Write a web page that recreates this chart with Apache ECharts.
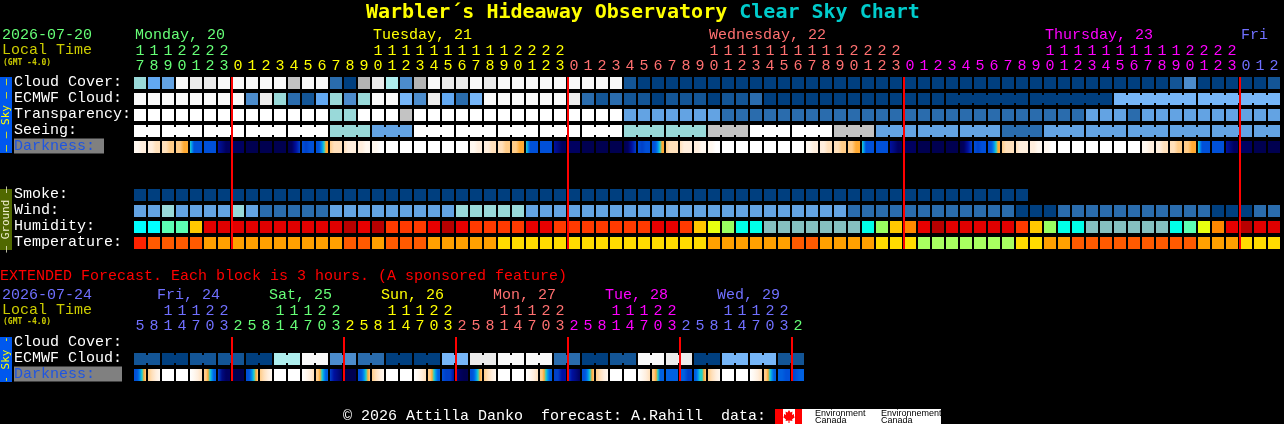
<!DOCTYPE html>
<html>
<head>
<meta charset="utf-8">
<style>html,body{margin:0;padding:0;background:#000;overflow:hidden}#c{width:1284px;height:424px}</style>
<script src="https://cdn.jsdelivr.net/npm/echarts@6/dist/echarts.min.js"></script>
</head>
<body>
<div id="c"></div>
<script>
// ---------- tick labels ----------
const hoursMain = [17,18,19,20,21,22,23,
  0,1,2,3,4,5,6,7,8,9,10,11,12,13,14,15,16,17,18,19,20,21,22,23,
  0,1,2,3,4,5,6,7,8,9,10,11,12,13,14,15,16,17,18,19,20,21,22,23,
  0,1,2,3,4,5,6,7,8,9,10,11,12,13,14,15,16,17,18,19,20,21,22,23,
  0,1,2];
const hoursExt = [5,8,11,14,17,20,23,
  2,5,8,11,14,17,20,23, 2,5,8,11,14,17,20,23, 2,5,8,11,14,17,20,23,
  2,5,8,11,14,17,20,23, 2,5,8,11,14,17,20,23, 2];
const rowsMain = ['Cloud Cover:','ECMWF Cloud:','Transparency:','Seeing:','Darkness:','','','Smoke:','Wind:','Humidity:','Temperature:'];
const rowsExt = ['Cloud Cover:','ECMWF Cloud:','Darkness:'];
const dayNamesMain = ['Monday, 20','Tuesday, 21','Wednesday, 22','Thursday, 23','Fri'];
const dayCellsMain = [0,17,41,65,79];
const dayNamesExt = ['Fri, 24','Sat, 25','Sun, 26','Mon, 27','Tue, 28','Wed, 29'];
const dayCellsExt = [2,10,18,26,34,42];
const midnightsMain = [7,31,55,79];
const midnightsExt = [7,15,23,31,39,47];

// ---------- series values (levels into the palettes) ----------
const cloudMain = [6,13,4,10,9,9,10,10,10,10,10,8,10,10,2,0,12,9,7,3,12,10,9,9,10,9,10,10,10,10,10,10,10,10,10,
  1,0,0,0,0,0,0,0,0,0,0,0,0,0,0,0,0,0,0,0,0,0,0,0,0,0,0,0,0,0,0,0,0,0,0,0,0,0,0,1,3,0,0,0,0,0,1];
const ecmwfMain = [10,10,10,10,10,10,10,10,3,9,6,2,1,13,6,3,6,10,10,5,3,9,13,2,5,10,10,10,10,10,10,9,2,1,2,1,1,0,1,1,1,0,1,1,2,
  0,0,0,0,0,0,0,0,0,0,0,0,0, 0,0,0,0,0,0, 0,0,0,0,0,0, 5,5,5,5,5,5, 5,5,5,5,5,5];
const ecmwfMainGroups = [1,1,1,1,1,1,1,1,1,1,1,1,1,1,1,1,1,1,1,1,1,1,1,1,1,1,1,1,1,1,1,1,1,1,1,1,1,1,1,1,1,1,1,1,1,1,1,1,1,1,1,1,1,1,1,1,1,1,6,6,6,6];
const transpMain = [11,11,11,11,11,11,11,11,11,11,11,11,11,11,6,6,11,11,11,8,11,11,11,11,11,11,11,11,11,11,11,11,11,11,11,
  4,4,4,4,4,4,4,2,2,2,2,2,2,2,2,2,2,2,2,2,2,2,2,2,2,2,2,2,2,2,2,2,2,4,4,4,2,4,4,4,4,4,4,4,4,4,4];
const seeingMain = [11,11, 11,11,11, 11,11,11, 11,11,11, 11,11,11, 6,6,6, 4,4,4, 11,11,11, 11,11,11, 11,11,11, 11,11,11, 11,11,11,
  6,6,6, 6,6,6, 8,8,8, 11,11,11, 11,11,11, 8,8,8, 4,4,4, 4,4,4, 4,4,4, 2,2,2, 4,4,4, 4,4,4, 4,4,4, 4,4,4, 4,4,4, 4,4];
const seeingGroups = [2,3,3,3,3,3,3,3,3,3,3,3,3,3,3,3,3,3,3,3,3,3,3,3,3,3,3,2];
const smokeMain = [0,0,0,0,0,0,0,0,0,0,0,0,0,0,0,0,0,0,0,0,0,0,0,0,0,0,0,0,0,0,0,0,0,0,0,0,0,0,0,0,0,0,0,0,0,0,0,0,0,0,0,0,0,0,0,0,0,0,0,0,0,0,0,0];
const windMain = [4,4,6,4,4,4,4,6,4,2,2,2,2,2,4,4,4,4,4,4,4,4,4,6,6,6,6,6,4,4,4,4,4,4,4,4,4,4,4,4,4,4,4,4,4,4,4,4,4,4,4,
  2,2,2,2,2,2,2,2,2,2,2,2,0,0,0,2,2,2,2,2,2,2,2,2,2,2,0,0,0,2,2];
const humidMain = [0,0,2,2,5,9,9,9,9,9,9,9,9,9,9,10,8,10,7,7,7,8,10,8,7,7,7,7,8,8,7,7,7,7,7,7,7,8,8,7,5,4,3,1,1,
  11,11,11,11,11,11,11,1,3,5,6,8,10,9,9,9,9,9,7,5,3,1,1,11,11,11,11,11,11,1,2,4,6,8,10,9,9];
const tempMain = [0,1,1,1,1,2,2,2,2,2,2,2,2,2,2,1,1,2,1,1,1,2,2,2,2,2,3,3,3,3,3,3,3,3,3,3,3,3,3,3,3,2,2,2,2,2,2,1,1,2,2,2,2,
  3,3,3,4,4,4,4,4,4,4,3,3,2,2,1,1,1,1,1,1,1,1,1,2,2,2,3,3,3];
const ecmwfExt = [1,1,0,0,1,1,1,1,0,0,7,7,10,10,3,3,2,2,0,0,0,0,5,5,9,9,10,10,10,10,2,2,0,0,1,1,10,10,9,9,0,0,5,5,5,5,1,1];
const ecmwfExtGroups = [2,2,2,2,2,2,2,2,2,2,2,2,2,2,2,2,2,2,2,2,2,2,2,2];
// darkness: samples across each block, hex digit = level in darkPalette
const darkMain = ['1122','2233','3344','4455','6799999','9999','bcdd','dddd','eeee','eeee','eeee','edba','9a99','9987655',
  '4333','3222','2211','1100','0000','0000','0000','0000','0000','0000',
  '1122','2233','3344','4455','6799999','9999','bcdd','dddd','eeee','eeee','eeee','edba','9a99','9987655',
  '4333','3222','2211','1100','0000','0000','0000','0000','0000','0000',
  '1122','2233','3344','4455','6799999','9999','bcdd','dddd','eeee','eeee','eeee','edba','9a99','9987655',
  '4333','3222','2211','1100','0000','0000','0000','0000','0000','0000',
  '1122','2233','3344','4455','6799999','9999','bcdd','dddd','eeee','eeee'];
const darkExt = ['9987654','4321','0000','0000','0123','4456788','acdd','eeee',
  '9987654','4321','0000','0000','0123','4456788','abcd','eeee',
  '9987654','4321','0000','0000','0123','4456788','9aab','cdee',
  '9987654','4321','0000','0000','0123','4456788','aabb','abcd',
  '9987654','4321','0000','0000','0123','4456888','8888','88aa',
  '8876654','4321','0000','0000','0123','4456788','8899','a988'];

// ---------- palettes ----------
const skyPalette = ['#003f7f','#135596','#2a6cad','#4c8ccc','#63a3e3','#76b6f8','#99d9d9','#aeeeee','#c3c3c3','#ebebeb','#f9f9f9','#ffffff','#b4b4b4','#62a8f2'];
const humidPalette = ['#00ffff','#00ffe8','#5cffb4','#98ff60','#e8ff10','#ffc800','#ff8800','#ff3a00','#e80000','#e00000','#b80000','#85bfbf'];
const tempPalette = ['#ff2200','#ff5a00','#ffa000','#ffdc00','#a8ff60'];
const darkPalette = ['#ffffff','#fff8f0','#ffeedd','#ffe0bb','#ffcc88','#ffaa33','#20d0c8','#0090f0','#0060e0','#0050d8','#0040c8','#0010a0','#000a80','#000060','#000050'];
const GREEN='#66ff77',YELLOW='#ffff00',SALMON='#ff7070',MAGENTA='#ff00ff',BLUE='#7070ff';
const dayColorsMain = [GREEN,YELLOW,SALMON,MAGENTA,BLUE];
const dayColorsExt = [BLUE,GREEN,YELLOW,SALMON,MAGENTA,BLUE,GREEN];
const dayRunMain = [0,7,31,55,79];
const dayRunExt = [0,7,15,23,31,39,47];

const MONO = '"Liberation Mono", monospace';
const HEAD = '"DejaVu Sans Mono", monospace';
const FONT = '15px '+MONO;
const CELL = 12;

function runColor(runs, colors, i){ let c = colors[0]; runs.forEach((r,k)=>{ if(i>=r) c = colors[k]; }); return c; }

function cellSeries(name, xi, yi, row, values, fillOf, groups){
  const bridged = new Set();
  if(groups){ let p=0; groups.forEach(g=>{ for(let k=0;k<g-1;k++) bridged.add(p+k); p+=g; }); }
  return {
    name, type:'custom', xAxisIndex:xi, yAxisIndex:yi, clip:false, z:2,
    data: values.map((v,i)=>[i,row]),
    renderItem(params, api){
      const c = api.coord([api.value(0), api.value(1)]);
      const i = params.dataIndex, fill = fillOf(values[i]);
      const kids = [{type:'rect', shape:{x:c[0]-CELL/2, y:c[1]-CELL/2, width:CELL, height:CELL}, style:{fill}}];
      if(bridged.has(i)) kids.push({type:'rect', shape:{x:c[0]+CELL/2, y:c[1]-4, width:2, height:8}, style:{fill}});
      return {type:'group', children:kids};
    }
  };
}
const sky = v => skyPalette[v];
const hum = v => humidPalette[v];
const tmp = v => tempPalette[v];
const dark = s => new echarts.graphic.LinearGradient(0,0,1,0,
  s.split('').map((d,k)=>({offset:k/(s.length-1), color:darkPalette[parseInt(d,16)]})));

function redLines(name, xi, yi, cells, r0, r1){
  return {
    name, type:'custom', xAxisIndex:xi, yAxisIndex:yi, clip:false, z:5,
    data: cells.map(c=>[c,r0]),
    renderItem(params, api){
      const a = api.coord([api.value(0), r0]), b = api.coord([api.value(0), r1]);
      return {type:'rect', shape:{x:a[0]-7, y:a[1]-CELL/2, width:2, height:b[1]-a[1]+CELL}, style:{fill:'#ff0000'}};
    }
  };
}
function dayLabels(name, xi, yi, cells, names, colors, dx){
  return {
    name, type:'custom', xAxisIndex:xi, yAxisIndex:yi, clip:false, z:3,
    data: cells.map(c=>[c,0]),
    renderItem(params, api){
      const a = api.coord([api.value(0), 0]), i = params.dataIndex;
      return {type:'text', style:{x:a[0]+dx, y:a[1]-48, text:names[i], fill:colors[i], font:FONT, verticalAlign:'middle', align:'left'}};
    }
  };
}
function xAxes(grid, labels, tens, runs, colors){
  const base = {type:'category', gridIndex:grid, position:'top', axisLine:{show:false}, axisTick:{show:false}, splitLine:{show:false}};
  const color = (v,i)=>runColor(runs,colors,i);
  return [
    Object.assign({}, base, {data:labels.map(String), axisLabel:{interval:0, margin:1, color, fontFamily:MONO, fontSize:15, formatter:v=>String(Number(v)%10)}}),
    Object.assign({}, base, {data:tens, axisLabel:{interval:0, margin:16, color, fontFamily:MONO, fontSize:15}})
  ];
}
function yAxis(grid, data, margin, boxWidth){
  return {
    type:'category', gridIndex:grid, inverse:true, data,
    axisLine:{show:false}, axisTick:{show:false}, splitLine:{show:false},
    axisLabel:{
      interval:0, margin, align:'left', color:'#ffffff', fontFamily:MONO, fontSize:15, padding:[0,0,2,0],
      formatter:v=> v==='Darkness:' ? '{d|Darkness:}' : v,
      rich:{d:{color:'#1f55e0', backgroundColor:'#808080', width:boxWidth, height:15, align:'left', fontFamily:MONO, fontSize:15}}
    }
  };
}
const tensOf = h => h>=10 ? String(Math.floor(h/10)) : '';
const topText = (x,y,text,fill,font)=>({type:'text', x, y, style:{text, fill, font:font||FONT, verticalAlign:'middle', align:'left'}});
const block = (x,y,width,height,fill)=>({type:'rect', shape:{x,y,width,height}, style:{fill}});
const sideText = (x,y,text,fill)=>({type:'text', x, y, rotation:Math.PI/2, style:{text, fill, font:'11px '+HEAD, align:'center', verticalAlign:'middle'}});

const chart = echarts.init(document.getElementById('c'), null, {width:1284, height:424});
chart.setOption({
  backgroundColor:'#000',
  animation:false,
  tooltip:{show:false},
  title:{
    left:366, top:3, padding:0,
    text:'{a|Warbler´s Hideaway Observatory }{b|Clear Sky Chart}',
    textStyle:{rich:{
      a:{color:'#ffff00', fontFamily:HEAD, fontWeight:'bold', fontSize:20},
      b:{color:'#00cccc', fontFamily:HEAD, fontWeight:'bold', fontSize:20}
    }}
  },
  grid:[
    {left:133, top:75, width:1148, height:176},
    {left:133, top:335, width:672, height:48}
  ],
  xAxis:[
    ...xAxes(0, hoursMain, hoursMain.map(tensOf), dayRunMain, dayColorsMain),
    ...xAxes(1, hoursExt, hoursExt.map(tensOf), dayRunExt, dayColorsExt)
  ],
  yAxis:[ yAxis(0, rowsMain, 119, 90), yAxis(1, rowsExt, 119, 108) ],
  series:[
    cellSeries('Cloud Cover',0,0,0,cloudMain,sky),
    cellSeries('ECMWF Cloud',0,0,1,ecmwfMain,sky,ecmwfMainGroups),
    cellSeries('Transparency',0,0,2,transpMain,sky),
    cellSeries('Seeing',0,0,3,seeingMain,sky,seeingGroups),
    cellSeries('Darkness',0,0,4,darkMain,dark),
    cellSeries('Smoke',0,0,7,smokeMain,sky),
    cellSeries('Wind',0,0,8,windMain,sky),
    cellSeries('Humidity',0,0,9,humidMain,hum),
    cellSeries('Temperature',0,0,10,tempMain,tmp),
    cellSeries('ECMWF Cloud ext',2,1,1,ecmwfExt,sky,ecmwfExtGroups),
    cellSeries('Darkness ext',2,1,2,darkExt,dark),
    redLines('Midnight',0,0,midnightsMain,0,10),
    redLines('Midnight ext',2,1,midnightsExt,0,2),
    dayLabels('Days',0,0,dayCellsMain,dayNamesMain,dayColorsMain,-5),
    dayLabels('Days ext',2,1,dayCellsExt,dayNamesExt,dayColorsExt,-11)
  ],
  graphic:[
    topText(2,35,'2026-07-20',GREEN),
    topText(2,50,'Local Time','#cccc00'),
    topText(3,63,'(GMT -4.0)','#cccc00','bold 8px '+HEAD),
    block(0,77,12,76,'#0058ee'), sideText(6,115,'— — Sky — —','#ffff00'),
    block(0,189,12,61,'#506800'), sideText(6,219.5,'— Ground —','#f0f0d0'),
    topText(0,276,'EXTENDED Forecast. Each block is 3 hours. (A sponsored feature)','#ff0000'),
    topText(2,295,'2026-07-24',BLUE),
    topText(2,310,'Local Time','#cccc00'),
    topText(3,322,'(GMT -4.0)','#cccc00','bold 8px '+HEAD),
    block(0,337,12,45,'#0058ee'), sideText(6,359.5,'- Sky -','#ffff00'),
    topText(343,416,'© 2026 Attilla Danko  forecast: A.Rahill  data:','#ffffff'),
    block(775,409,166,15,'#ffffff'),
    block(775,409,8,15,'#ff0000'), block(795,409,7,15,'#ff0000'),
    {type:'polygon', shape:{points:[[789,410],[790.5,412.5],[792.5,411.5],[792,415],[794,414],[794,416.5],[795,417],[792,419.5],[792.5,421],[789.5,420.5],[789.5,423],[788.5,423],[788.5,420.5],[785.5,421],[786,419.5],[783,417],[784,416.5],[784,414],[786,415],[785.5,411.5],[787.5,412.5]]}, style:{fill:'#ff0000'}},
    topText(815,414,'Environment','#000000','9px "Liberation Sans"'),
    topText(815,421,'Canada','#000000','9px "Liberation Sans"'),
    topText(881,414,'Environnement','#000000','9px "Liberation Sans"'),
    topText(881,421,'Canada','#000000','9px "Liberation Sans"')
  ]
});
</script>
</body>
</html>
